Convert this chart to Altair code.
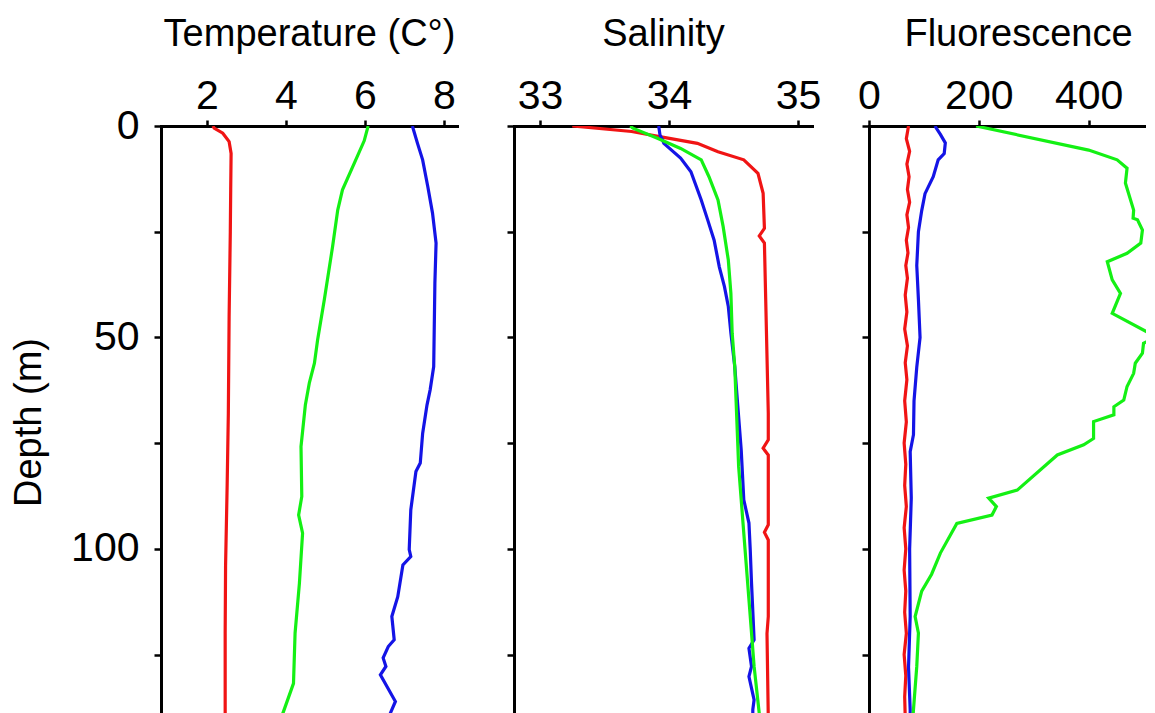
import altair as alt
import pandas as pd

# ---------------- Temperature (C) ----------------
temp_red_depth = [0, 0.5, 1.7, 3.7, 6.5, 15, 25, 45, 68, 85, 104, 120, 140]
temp_red_val = [2.15, 2.18, 2.40, 2.56, 2.61, 2.60, 2.59, 2.56, 2.54, 2.51, 2.47, 2.46, 2.46]

temp_green_depth = [0, 3.5, 8.8, 15.1, 19.9, 28.5, 41.1, 50.6, 56.1, 60.8, 66, 75.8, 87.6, 92,
                    96.3, 108.1, 119.9, 131.8, 138.9, 140]
temp_green_val = [6.08, 5.98, 5.73, 5.43, 5.31, 5.18, 4.97, 4.80, 4.72, 4.59, 4.49, 4.38, 4.40, 4.32,
                  4.42, 4.34, 4.23, 4.19, 3.92, 3.88]

temp_blue_depth = [0, 4.1, 8, 14.3, 20.6, 27.7, 37.2, 56.9, 62.4, 66, 72.7, 79.7, 81.7, 90.8,
                   100.2, 101.8, 103.8, 111.3, 116, 121.5, 123.1, 125.8, 127.8, 129.8, 136.1,
                   138.9, 140]
temp_blue_val = [7.20, 7.33, 7.46, 7.59, 7.71, 7.80, 7.77, 7.74, 7.65, 7.57, 7.46, 7.40, 7.29, 7.16,
                 7.12, 7.16, 6.96, 6.83, 6.68, 6.74, 6.59, 6.46, 6.53, 6.39, 6.77, 6.64, 6.62]

# ---------------- Salinity ----------------
sal_red_depth = [0, 1.3, 2.7, 4.1, 6.1, 8, 11.2, 15.9, 24.2, 26, 27.7, 41, 68, 74.2, 76.2, 77.8,
                 94.3, 96.1, 97.9, 116, 120, 140]
sal_red_val = [33.25, 33.71, 33.96, 34.22, 34.38, 34.58, 34.69, 34.73, 34.74, 34.70, 34.74, 34.75,
               34.77, 34.77, 34.73, 34.77, 34.77, 34.74, 34.77, 34.77, 34.76, 34.77]

sal_green_depth = [0, 0.5, 2.9, 5.3, 8, 12, 17.5, 23.8, 31.7, 39.6, 49, 56.9, 64.8, 80.5, 96.3,
                   112, 127.8, 138.9, 140]
sal_green_val = [33.70, 33.72, 33.91, 34.09, 34.25, 34.31, 34.38, 34.42, 34.46, 34.48, 34.49,
                 34.51, 34.52, 34.54, 34.58, 34.62, 34.66, 34.70, 34.71]

sal_blue_depth = [0, 2.1, 3.3, 4.1, 7.6, 10.8, 17.5, 22.2, 27, 33.3, 38, 42.7, 49, 56.9, 64.8,
                  76.6, 88.4, 93.9, 100.2, 108.1, 121.5, 123.5, 127.8, 130.2, 135.7, 138, 140]
sal_blue_val = [33.92, 33.93, 33.95, 33.96, 34.09, 34.17, 34.25, 34.30, 34.35, 34.39, 34.43, 34.46,
                34.48, 34.51, 34.53, 34.56, 34.58, 34.62, 34.63, 34.64, 34.66, 34.62, 34.64,
                34.62, 34.66, 34.65, 34.65]

# ---------------- Fluorescence ----------------
fl_red_depth = [0, 3, 6, 9, 12, 15, 18, 21, 24, 27, 30, 33, 36, 40, 44, 48, 52, 56, 60, 65, 70,
                75, 80, 85, 90, 95, 100, 105, 110, 115, 120, 125, 130, 135, 140]
fl_red_val = [72, 68, 74, 69, 73, 70, 74, 69, 72, 68, 71, 67, 70, 66, 69, 65, 70, 66, 69, 65, 68,
              64, 67, 65, 68, 64, 67, 64, 67, 65, 68, 64, 67, 65, 66]

fl_green_depth = [0, 5.7, 8, 10, 13.5, 19.9, 21.8, 22.2, 24.6, 27.7, 30.1, 32.1, 36.4, 39.6, 44.3,
                  49.8, 51.4, 53.7, 56.1, 58.5, 61.6, 64.8, 66.4, 68.3, 69.9, 73.9, 75.4, 77.8,
                  86.1, 88, 90, 92, 94, 101, 106, 110, 116, 119.9, 127.8, 138, 140]
fl_green_val = [195, 400, 452, 470, 467, 482, 481, 489, 498, 495, 470, 434, 443, 458, 443,
                522, 500, 498, 485, 482, 470, 464, 446, 446, 409, 409, 391, 343,
                270, 218, 232, 224, 160, 130, 114, 96, 84, 90, 87, 81, 80]

fl_blue_depth = [0, 2, 4, 6.5, 8, 12, 16, 20, 25, 33, 41, 50, 57, 65, 73, 77, 88, 100, 116, 128,
                 138, 140]
fl_blue_val = [120, 130, 139, 137, 126, 117, 102, 96, 90, 87, 90, 93, 87, 82, 81, 75, 77, 74, 75,
               72, 75, 75]

COLORS = {"red": "#f01414", "green": "#14f014", "blue": "#1414e6"}
DEPTH_TICKS = [0, 25, 50, 75, 100, 125]
FONT = "Liberation Sans"


def panel(parts, title, domain, ticks, width, first, title_x=None):
    xargs = dict(orient="top", values=ticks, title=title, tickSize=6, labelPadding=3,
                 titlePadding=22, labelFlush=False, labelOverlap=False)
    if title_x is not None:
        xargs["titleX"] = title_x
    xaxis = alt.Axis(**xargs)
    if first:
        yaxis = alt.Axis(values=DEPTH_TICKS, title="Depth (m)", tickSize=7, labelPadding=15,
                         titlePadding=22, labelFlush=False, labelOverlap=False,
                         labelExpr="datum.value % 50 == 0 ? datum.label : ''")
    else:
        yaxis = alt.Axis(values=DEPTH_TICKS, title=None, labels=False, tickSize=7)
    layers = []
    for name, d, v in parts:
        df = pd.DataFrame({"depth": d, "value": v})
        layers.append(
            alt.Chart(df).mark_line(color=COLORS[name], strokeWidth=3.2, clip=True).encode(
                x=alt.X("value:Q", scale=alt.Scale(domain=domain, nice=False, zero=False),
                        axis=xaxis),
                y=alt.Y("depth:Q", scale=alt.Scale(domain=[0, 140], reverse=True, nice=False),
                        axis=yaxis),
                order=alt.Order("depth:Q"),
            )
        )
    return alt.layer(*layers).properties(width=width, height=592)


p1 = panel([("red", temp_red_depth, temp_red_val),
            ("blue", temp_blue_depth, temp_blue_val),
            ("green", temp_green_depth, temp_green_val)],
           "Temperature (C°)", [0.835, 8.33], [2, 4, 6, 8], 296, True)
p2 = panel([("red", sal_red_depth, sal_red_val),
            ("blue", sal_blue_depth, sal_blue_val),
            ("green", sal_green_depth, sal_green_val)],
           "Salinity", [32.798, 35.109], [33, 34, 35], 298, False)
p3 = panel([("red", fl_red_depth, fl_red_val),
            ("blue", fl_blue_depth, fl_blue_val),
            ("green", fl_green_depth, fl_green_val)],
           "Fluorescence", [0, 504.5], [0, 200, 400], 277, False, title_x=149)

chart = (
    alt.hconcat(p1, p2, p3, spacing=57, bounds="flush")
    .properties(padding={"top": 7, "left": 2, "right": 0, "bottom": 0})
    .configure_axis(domainColor="black", domainWidth=3, tickColor="black", tickWidth=2.5,
                    labelColor="black", titleColor="black", labelFont=FONT, titleFont=FONT,
                    labelFontSize=41, titleFontSize=38, titleFontWeight="normal", grid=False,
                    domainCap="square")
    .configure_view(stroke=None)
)

chart.save("out.html", embed_options={"renderer": "svg", "actions": False})
